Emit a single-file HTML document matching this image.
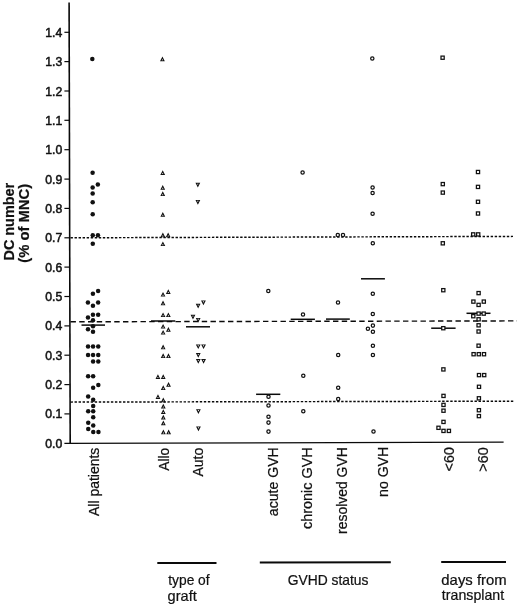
<!DOCTYPE html>
<html><head><meta charset="utf-8"><title>DC number</title>
<style>html,body{margin:0;padding:0;background:#fff}svg{display:block}text{font-family:"Liberation Sans",sans-serif;fill:#111}</style>
</head><body>
<svg width="520" height="607" viewBox="0 0 520 607">
<rect width="520" height="607" fill="#fff"/>
<g stroke="#0a0a0a" fill="none">
<line x1="69.1" y1="2.5" x2="70.2" y2="443.6" stroke-width="1.6"/>
<line x1="64.4" y1="443.3" x2="503.6" y2="442.2" stroke-width="1.3"/>
<line x1="64.4" y1="413.9" x2="69.8" y2="413.9" stroke-width="1.2"/>
<line x1="64.4" y1="384.6" x2="69.8" y2="384.6" stroke-width="1.2"/>
<line x1="64.4" y1="355.2" x2="69.8" y2="355.2" stroke-width="1.2"/>
<line x1="64.4" y1="325.9" x2="69.8" y2="325.9" stroke-width="1.2"/>
<line x1="64.4" y1="296.5" x2="69.8" y2="296.5" stroke-width="1.2"/>
<line x1="64.4" y1="267.1" x2="69.8" y2="267.1" stroke-width="1.2"/>
<line x1="64.4" y1="237.8" x2="69.8" y2="237.8" stroke-width="1.2"/>
<line x1="64.4" y1="208.4" x2="69.8" y2="208.4" stroke-width="1.2"/>
<line x1="64.4" y1="179.1" x2="69.8" y2="179.1" stroke-width="1.2"/>
<line x1="64.4" y1="149.7" x2="69.8" y2="149.7" stroke-width="1.2"/>
<line x1="64.4" y1="120.3" x2="69.8" y2="120.3" stroke-width="1.2"/>
<line x1="64.4" y1="91.0" x2="69.8" y2="91.0" stroke-width="1.2"/>
<line x1="64.4" y1="61.6" x2="69.8" y2="61.6" stroke-width="1.2"/>
<line x1="64.4" y1="32.3" x2="69.8" y2="32.3" stroke-width="1.2"/>
<line x1="70.5" y1="237.8" x2="513" y2="236.4" stroke-width="1.45" stroke-dasharray="2.4 1.64"/>
<line x1="70.5" y1="402.1" x2="514.4" y2="401.2" stroke-width="1.45" stroke-dasharray="2.4 1.64"/>
<line x1="70.5" y1="321.8" x2="517" y2="320.9" stroke-width="1.4" stroke-dasharray="5.4 3.35"/>
<line x1="81.5" y1="325.1" x2="105.0" y2="325.1" stroke-width="1.5"/>
<line x1="151.0" y1="321.0" x2="175.3" y2="321.0" stroke-width="1.5"/>
<line x1="186.0" y1="326.8" x2="210.0" y2="326.8" stroke-width="1.5"/>
<line x1="256.1" y1="394.3" x2="280.3" y2="394.3" stroke-width="1.5"/>
<line x1="290.7" y1="319.3" x2="314.9" y2="319.3" stroke-width="1.5"/>
<line x1="326.0" y1="319.1" x2="349.8" y2="319.1" stroke-width="1.5"/>
<line x1="361.0" y1="278.8" x2="384.9" y2="278.8" stroke-width="1.5"/>
<line x1="431.2" y1="328.2" x2="455.6" y2="328.2" stroke-width="1.5"/>
<line x1="466.5" y1="313.3" x2="490.5" y2="313.3" stroke-width="1.5"/>
<line x1="157.3" y1="563.1" x2="216.5" y2="563.0" stroke-width="2"/>
<line x1="259.8" y1="562.5" x2="390.8" y2="562.2" stroke-width="2"/>
<line x1="441.2" y1="562.0" x2="506" y2="561.9" stroke-width="2"/>
</g>
<g fill="#111">
<circle cx="92.32" cy="59.00" r="2.25"/>
<circle cx="92.61" cy="172.70" r="2.25"/>
<circle cx="97.84" cy="184.60" r="2.25"/>
<circle cx="92.64" cy="187.50" r="2.25"/>
<circle cx="92.66" cy="193.40" r="2.25"/>
<circle cx="92.68" cy="202.30" r="2.25"/>
<circle cx="92.71" cy="214.20" r="2.25"/>
<circle cx="92.76" cy="235.20" r="2.25"/>
<circle cx="97.96" cy="235.20" r="2.25"/>
<circle cx="92.78" cy="243.80" r="2.25"/>
<circle cx="98.10" cy="291.00" r="2.25"/>
<circle cx="92.91" cy="293.70" r="2.25"/>
<circle cx="87.93" cy="302.40" r="2.25"/>
<circle cx="98.13" cy="302.40" r="2.25"/>
<circle cx="92.94" cy="305.80" r="2.25"/>
<circle cx="92.96" cy="314.70" r="2.25"/>
<circle cx="98.16" cy="314.70" r="2.25"/>
<circle cx="87.97" cy="317.40" r="2.25"/>
<circle cx="92.98" cy="320.30" r="2.25"/>
<circle cx="92.99" cy="326.20" r="2.25"/>
<circle cx="88.00" cy="329.30" r="2.25"/>
<circle cx="93.00" cy="331.80" r="2.25"/>
<circle cx="88.04" cy="346.60" r="2.25"/>
<circle cx="93.04" cy="346.60" r="2.25"/>
<circle cx="98.24" cy="346.60" r="2.25"/>
<circle cx="88.06" cy="355.00" r="2.25"/>
<circle cx="93.06" cy="355.00" r="2.25"/>
<circle cx="98.26" cy="355.00" r="2.25"/>
<circle cx="93.08" cy="361.50" r="2.25"/>
<circle cx="98.28" cy="361.50" r="2.25"/>
<circle cx="88.12" cy="376.20" r="2.25"/>
<circle cx="93.12" cy="376.20" r="2.25"/>
<circle cx="98.34" cy="385.00" r="2.25"/>
<circle cx="93.14" cy="387.80" r="2.25"/>
<circle cx="88.17" cy="396.40" r="2.25"/>
<circle cx="93.17" cy="399.80" r="2.25"/>
<circle cx="93.19" cy="406.10" r="2.25"/>
<circle cx="88.20" cy="411.20" r="2.25"/>
<circle cx="93.20" cy="411.20" r="2.25"/>
<circle cx="93.22" cy="417.20" r="2.25"/>
<circle cx="88.23" cy="422.80" r="2.25"/>
<circle cx="93.24" cy="425.60" r="2.25"/>
<circle cx="88.25" cy="429.00" r="2.25"/>
<circle cx="93.25" cy="432.00" r="2.25"/>
<circle cx="98.45" cy="432.00" r="2.25"/>
</g>
<g fill="#fff" stroke="#111" stroke-width="1.25" stroke-linejoin="miter">
</g><g fill="#111" fill-rule="evenodd" stroke="none">
<path d="M162.42 56.50 l2.4 4.7 h-4.8 z M162.42 58.95 l0.7 1.4 h-1.4 z"/>
<path d="M162.71 170.20 l2.4 4.7 h-4.8 z M162.71 172.65 l0.7 1.4 h-1.4 z"/>
<path d="M162.74 185.00 l2.4 4.7 h-4.8 z M162.74 187.45 l0.7 1.4 h-1.4 z"/>
<path d="M162.76 191.30 l2.4 4.7 h-4.8 z M162.76 193.75 l0.7 1.4 h-1.4 z"/>
<path d="M162.81 212.00 l2.4 4.7 h-4.8 z M162.81 214.45 l0.7 1.4 h-1.4 z"/>
<path d="M162.86 232.60 l2.4 4.7 h-4.8 z M162.86 235.05 l0.7 1.4 h-1.4 z"/>
<path d="M168.16 232.60 l2.4 4.7 h-4.8 z M168.16 235.05 l0.7 1.4 h-1.4 z"/>
<path d="M162.88 241.40 l2.4 4.7 h-4.8 z M162.88 243.85 l0.7 1.4 h-1.4 z"/>
<path d="M168.30 289.20 l2.4 4.7 h-4.8 z M168.30 291.65 l0.7 1.4 h-1.4 z"/>
<path d="M163.01 291.90 l2.4 4.7 h-4.8 z M163.01 294.35 l0.7 1.4 h-1.4 z"/>
<path d="M163.03 300.60 l2.4 4.7 h-4.8 z M163.03 303.05 l0.7 1.4 h-1.4 z"/>
<path d="M163.06 312.40 l2.4 4.7 h-4.8 z M163.06 314.85 l0.7 1.4 h-1.4 z"/>
<path d="M168.36 312.40 l2.4 4.7 h-4.8 z M168.36 314.85 l0.7 1.4 h-1.4 z"/>
<path d="M163.09 323.90 l2.4 4.7 h-4.8 z M163.09 326.35 l0.7 1.4 h-1.4 z"/>
<path d="M168.40 327.00 l2.4 4.7 h-4.8 z M168.40 329.45 l0.7 1.4 h-1.4 z"/>
<path d="M163.11 329.90 l2.4 4.7 h-4.8 z M163.11 332.35 l0.7 1.4 h-1.4 z"/>
<path d="M163.14 344.60 l2.4 4.7 h-4.8 z M163.14 347.05 l0.7 1.4 h-1.4 z"/>
<path d="M163.16 353.30 l2.4 4.7 h-4.8 z M163.16 355.75 l0.7 1.4 h-1.4 z"/>
<path d="M168.46 353.30 l2.4 4.7 h-4.8 z M168.46 355.75 l0.7 1.4 h-1.4 z"/>
<path d="M157.92 374.20 l2.4 4.7 h-4.8 z M157.92 376.65 l0.7 1.4 h-1.4 z"/>
<path d="M163.22 374.20 l2.4 4.7 h-4.8 z M163.22 376.65 l0.7 1.4 h-1.4 z"/>
<path d="M168.54 382.00 l2.4 4.7 h-4.8 z M168.54 384.45 l0.7 1.4 h-1.4 z"/>
<path d="M163.24 385.30 l2.4 4.7 h-4.8 z M163.24 387.75 l0.7 1.4 h-1.4 z"/>
<path d="M157.97 394.20 l2.4 4.7 h-4.8 z M157.97 396.65 l0.7 1.4 h-1.4 z"/>
<path d="M163.28 397.60 l2.4 4.7 h-4.8 z M163.28 400.05 l0.7 1.4 h-1.4 z"/>
<path d="M163.29 403.70 l2.4 4.7 h-4.8 z M163.29 406.15 l0.7 1.4 h-1.4 z"/>
<path d="M163.30 409.20 l2.4 4.7 h-4.8 z M163.30 411.65 l0.7 1.4 h-1.4 z"/>
<path d="M163.32 414.70 l2.4 4.7 h-4.8 z M163.32 417.15 l0.7 1.4 h-1.4 z"/>
<path d="M163.33 420.50 l2.4 4.7 h-4.8 z M163.33 422.95 l0.7 1.4 h-1.4 z"/>
<path d="M163.36 429.60 l2.4 4.7 h-4.8 z M163.36 432.05 l0.7 1.4 h-1.4 z"/>
<path d="M168.66 429.60 l2.4 4.7 h-4.8 z M168.66 432.05 l0.7 1.4 h-1.4 z"/>
<path d="M197.84 187.50 l2.4 -4.7 h-4.8 z M197.84 185.05 l0.7 -1.4 h-1.4 z"/>
<path d="M197.88 204.70 l2.4 -4.7 h-4.8 z M197.88 202.25 l0.7 -1.4 h-1.4 z"/>
<path d="M203.43 305.20 l2.4 -4.7 h-4.8 z M203.43 302.75 l0.7 -1.4 h-1.4 z"/>
<path d="M198.14 308.50 l2.4 -4.7 h-4.8 z M198.14 306.05 l0.7 -1.4 h-1.4 z"/>
<path d="M192.97 319.50 l2.4 -4.7 h-4.8 z M192.97 317.05 l0.7 -1.4 h-1.4 z"/>
<path d="M198.18 322.60 l2.4 -4.7 h-4.8 z M198.18 320.15 l0.7 -1.4 h-1.4 z"/>
<path d="M198.24 349.10 l2.4 -4.7 h-4.8 z M198.24 346.65 l0.7 -1.4 h-1.4 z"/>
<path d="M203.54 349.10 l2.4 -4.7 h-4.8 z M203.54 346.65 l0.7 -1.4 h-1.4 z"/>
<path d="M198.26 357.80 l2.4 -4.7 h-4.8 z M198.26 355.35 l0.7 -1.4 h-1.4 z"/>
<path d="M198.28 363.80 l2.4 -4.7 h-4.8 z M198.28 361.35 l0.7 -1.4 h-1.4 z"/>
<path d="M203.58 363.80 l2.4 -4.7 h-4.8 z M203.58 361.35 l0.7 -1.4 h-1.4 z"/>
<path d="M198.40 413.90 l2.4 -4.7 h-4.8 z M198.40 411.45 l0.7 -1.4 h-1.4 z"/>
<path d="M198.45 431.20 l2.4 -4.7 h-4.8 z M198.45 428.75 l0.7 -1.4 h-1.4 z"/>
</g><g fill="#fff" stroke="#111" stroke-width="1.25">
<circle cx="268.3" cy="290.9" r="1.65"/>
<circle cx="268.5" cy="396.7" r="1.65"/>
<circle cx="268.5" cy="405.5" r="1.65"/>
<circle cx="268.5" cy="416.7" r="1.65"/>
<circle cx="268.5" cy="422.6" r="1.65"/>
<circle cx="268.5" cy="431.6" r="1.65"/>
<circle cx="302.6" cy="172.5" r="1.65"/>
<circle cx="303.0" cy="314.5" r="1.65"/>
<circle cx="303.3" cy="375.7" r="1.65"/>
<circle cx="303.3" cy="411.2" r="1.65"/>
<circle cx="337.8" cy="234.9" r="1.65"/>
<circle cx="343.0" cy="234.9" r="1.65"/>
<circle cx="338.0" cy="302.4" r="1.65"/>
<circle cx="338.2" cy="355.0" r="1.65"/>
<circle cx="338.2" cy="387.7" r="1.65"/>
<circle cx="338.2" cy="399.0" r="1.65"/>
<circle cx="372.3" cy="58.4" r="1.65"/>
<circle cx="372.6" cy="187.5" r="1.65"/>
<circle cx="372.6" cy="193.0" r="1.65"/>
<circle cx="372.6" cy="213.8" r="1.65"/>
<circle cx="372.8" cy="243.2" r="1.65"/>
<circle cx="372.8" cy="293.7" r="1.65"/>
<circle cx="372.8" cy="313.9" r="1.65"/>
<circle cx="372.9" cy="325.6" r="1.65"/>
<circle cx="367.9" cy="328.7" r="1.65"/>
<circle cx="372.9" cy="331.7" r="1.65"/>
<circle cx="372.9" cy="345.8" r="1.65"/>
<circle cx="372.9" cy="355.0" r="1.65"/>
<circle cx="373.5" cy="431.5" r="1.65"/>
<rect x="441.0" y="56.1" width="3.2" height="3.2"/>
<rect x="441.2" y="182.5" width="3.2" height="3.2"/>
<rect x="441.2" y="191.0" width="3.2" height="3.2"/>
<rect x="441.2" y="241.7" width="3.2" height="3.2"/>
<rect x="441.7" y="288.6" width="3.2" height="3.2"/>
<rect x="441.7" y="326.6" width="3.2" height="3.2"/>
<rect x="441.8" y="367.8" width="3.2" height="3.2"/>
<rect x="441.9" y="394.3" width="3.2" height="3.2"/>
<rect x="441.9" y="403.3" width="3.2" height="3.2"/>
<rect x="441.9" y="409.1" width="3.2" height="3.2"/>
<rect x="441.9" y="420.3" width="3.2" height="3.2"/>
<rect x="436.9" y="426.2" width="3.2" height="3.2"/>
<rect x="441.9" y="429.3" width="3.2" height="3.2"/>
<rect x="447.3" y="429.3" width="3.2" height="3.2"/>
<rect x="476.4" y="170.4" width="3.2" height="3.2"/>
<rect x="476.4" y="185.3" width="3.2" height="3.2"/>
<rect x="476.4" y="200.2" width="3.2" height="3.2"/>
<rect x="476.4" y="211.9" width="3.2" height="3.2"/>
<rect x="471.6" y="232.8" width="3.2" height="3.2"/>
<rect x="476.6" y="232.8" width="3.2" height="3.2"/>
<rect x="477.0" y="291.5" width="3.2" height="3.2"/>
<rect x="471.8" y="300.0" width="3.2" height="3.2"/>
<rect x="482.2" y="300.0" width="3.2" height="3.2"/>
<rect x="477.0" y="303.3" width="3.2" height="3.2"/>
<rect x="477.0" y="312.0" width="3.2" height="3.2"/>
<rect x="482.1" y="312.0" width="3.2" height="3.2"/>
<rect x="471.7" y="314.6" width="3.2" height="3.2"/>
<rect x="477.0" y="317.7" width="3.2" height="3.2"/>
<rect x="477.0" y="323.7" width="3.2" height="3.2"/>
<rect x="477.0" y="329.9" width="3.2" height="3.2"/>
<rect x="477.0" y="344.1" width="3.2" height="3.2"/>
<rect x="472.0" y="352.6" width="3.2" height="3.2"/>
<rect x="477.2" y="352.6" width="3.2" height="3.2"/>
<rect x="482.4" y="352.6" width="3.2" height="3.2"/>
<rect x="477.4" y="373.5" width="3.2" height="3.2"/>
<rect x="482.6" y="373.5" width="3.2" height="3.2"/>
<rect x="477.4" y="385.2" width="3.2" height="3.2"/>
<rect x="477.3" y="396.7" width="3.2" height="3.2"/>
<rect x="477.3" y="408.6" width="3.2" height="3.2"/>
<rect x="477.3" y="414.5" width="3.2" height="3.2"/>
</g>
<g font-size="12.3" text-anchor="end" stroke="#111" stroke-width="0.5">
<text x="62.3" y="447.8" textLength="17.0" lengthAdjust="spacingAndGlyphs">0.0</text>
<text x="62.3" y="418.4" textLength="17.0" lengthAdjust="spacingAndGlyphs">0.1</text>
<text x="62.3" y="389.1" textLength="17.0" lengthAdjust="spacingAndGlyphs">0.2</text>
<text x="62.3" y="359.7" textLength="17.0" lengthAdjust="spacingAndGlyphs">0.3</text>
<text x="62.3" y="330.4" textLength="17.0" lengthAdjust="spacingAndGlyphs">0.4</text>
<text x="62.3" y="301.0" textLength="17.0" lengthAdjust="spacingAndGlyphs">0.5</text>
<text x="62.3" y="271.6" textLength="17.0" lengthAdjust="spacingAndGlyphs">0.6</text>
<text x="62.3" y="242.3" textLength="17.0" lengthAdjust="spacingAndGlyphs">0.7</text>
<text x="62.3" y="212.9" textLength="17.0" lengthAdjust="spacingAndGlyphs">0.8</text>
<text x="62.3" y="183.6" textLength="17.0" lengthAdjust="spacingAndGlyphs">0.9</text>
<text x="62.3" y="154.2" textLength="17.0" lengthAdjust="spacingAndGlyphs">1.0</text>
<text x="62.3" y="124.8" textLength="17.0" lengthAdjust="spacingAndGlyphs">1.1</text>
<text x="62.3" y="95.5" textLength="17.0" lengthAdjust="spacingAndGlyphs">1.2</text>
<text x="62.3" y="66.1" textLength="17.0" lengthAdjust="spacingAndGlyphs">1.3</text>
<text x="62.3" y="36.8" textLength="17.0" lengthAdjust="spacingAndGlyphs">1.4</text>
</g>
<text stroke="#111" stroke-width="0.22" font-size="14.20" font-weight="bold" transform="translate(13.80 260.52) rotate(-90)" textLength="77.64" lengthAdjust="spacingAndGlyphs">DC number</text>
<text stroke="#111" stroke-width="0.22" font-size="14.20" font-weight="bold" transform="translate(29.00 262.70) rotate(-90)" textLength="78.84" lengthAdjust="spacingAndGlyphs">(% of MNC)</text>
<text stroke="#111" stroke-width="0.22" font-size="14.60" transform="translate(98.60 515.94) rotate(-90)" textLength="68.19" lengthAdjust="spacingAndGlyphs">All patients</text>
<text stroke="#111" stroke-width="0.22" font-size="14.60" transform="translate(169.00 470.64) rotate(-90)" textLength="22.91" lengthAdjust="spacingAndGlyphs">Allo</text>
<text stroke="#111" stroke-width="0.22" font-size="14.60" transform="translate(202.70 476.55) rotate(-90)" textLength="28.75" lengthAdjust="spacingAndGlyphs">Auto</text>
<text stroke="#111" stroke-width="0.22" font-size="14.60" transform="translate(278.00 516.15) rotate(-90)" textLength="68.91" lengthAdjust="spacingAndGlyphs">acute GVH</text>
<text stroke="#111" stroke-width="0.22" font-size="14.60" transform="translate(312.00 528.96) rotate(-90)" textLength="81.72" lengthAdjust="spacingAndGlyphs">chronic GVH</text>
<text stroke="#111" stroke-width="0.22" font-size="14.60" transform="translate(346.80 533.95) rotate(-90)" textLength="86.71" lengthAdjust="spacingAndGlyphs">resolved GVH</text>
<text stroke="#111" stroke-width="0.22" font-size="14.60" transform="translate(388.20 496.95) rotate(-90)" textLength="50.14" lengthAdjust="spacingAndGlyphs">no GVH</text>
<text stroke="#111" stroke-width="0.22" font-size="14.60" transform="translate(453.90 471.40) rotate(-90)" textLength="24.25" lengthAdjust="spacingAndGlyphs">&lt;60</text>
<text stroke="#111" stroke-width="0.22" font-size="14.60" transform="translate(488.40 471.65) rotate(-90)" textLength="24.41" lengthAdjust="spacingAndGlyphs">&gt;60</text>
<text stroke="#111" stroke-width="0.22" font-size="14.60" x="168.24" y="584.60" textLength="41.39" lengthAdjust="spacingAndGlyphs">type of</text>
<text stroke="#111" stroke-width="0.22" font-size="14.60" x="167.61" y="600.70" textLength="29.11" lengthAdjust="spacingAndGlyphs">graft</text>
<text stroke="#111" stroke-width="0.22" font-size="14.60" x="287.77" y="584.50" textLength="80.64" lengthAdjust="spacingAndGlyphs">GVHD status</text>
<text stroke="#111" stroke-width="0.22" font-size="14.60" x="441.35" y="584.60" textLength="65.34" lengthAdjust="spacingAndGlyphs">days from</text>
<text stroke="#111" stroke-width="0.22" font-size="14.60" x="441.87" y="600.40" textLength="62.26" lengthAdjust="spacingAndGlyphs">transplant</text>
</svg>
</body></html>
